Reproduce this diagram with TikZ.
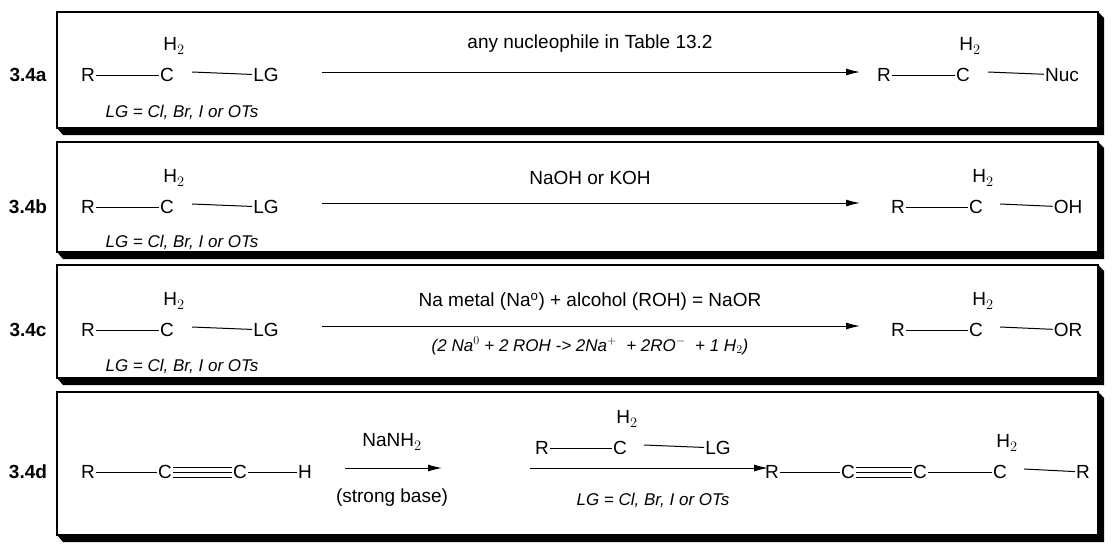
\documentclass[tikz,border=0pt]{standalone}
\usepackage{fontspec}
\setmainfont{Liberation Sans}
\usetikzlibrary{arrows.meta}
\tikzset{
  atm/.style={inner sep=1pt,font=\fontsize{19}{22}\selectfont},
  hh/.style={inner sep=0pt,font=\fontsize{19}{22}\selectfont},
  lgnote/.style={inner sep=0pt,font=\fontsize{17}{20}\selectfont\itshape},
  reag/.style={inner sep=0pt,font=\fontsize{19}{22}\selectfont},
  tag/.style={inner sep=0pt,font=\fontsize{19}{22}\selectfont\bfseries},
  bond/.style={line width=1pt},
  rxn/.style={line width=1pt,-{Latex[length=14pt,width=7pt]}},
  panel/.style={draw,line width=1.6pt,fill=white}
}
% panel with bevelled shadow: #1 top, #2 bottom
\newcommand{\rxnpanel}[2]{%
  \fill (57,#2) -- (63,#2+7) -- (1104,#2+7) -- (1104,#1+6) -- (1098,#1) -- cycle;
  \draw[panel] (57,#1) rectangle (1098,#2);}
\begin{document}
\begin{tikzpicture}[x=1pt,y=-1pt]
  \useasboundingbox (0,0) rectangle (1114,550);
  \rxnpanel{12}{128}
  \rxnpanel{142}{252}
  \rxnpanel{265}{378}
  \rxnpanel{392}{535}

  % 3.4a
  \node[tag] (ta) at (28,75) {3.4a};
  \node[atm] (ra) at (88,75) {R};
  \node[atm] (ca) at (167,75) {C};
  \node[hh] (ha) at (174,46) {H$_2$};
  \node[atm] (lga) at (266,75) {LG};
  \draw[bond] (ra) -- (ca); \draw[bond] (192,72) -- (lga);
  \node[lgnote] (na) at (182,112) {LG = Cl, Br, I or OTs};
  \coordinate (a0) at (322,72); \coordinate (a1) at (860,72);
  \draw[rxn] (a0) -- (a1);
  \node[reag] (qa) at (590,44) {any nucleophile in Table 13.2};
  \node[atm] (rpa) at (884,75) {R};
  \node[atm] (cpa) at (963,75) {C};
  \node[hh] (hpa) at (970,46) {H$_2$};
  \node[atm] (nuc) at (1062,75) {Nuc};
  \draw[bond] (rpa) -- (cpa); \draw[bond] (988,72) -- (nuc);

  % 3.4b
  \node[tag] (tb) at (28,207) {3.4b};
  \node[atm] (rb) at (88,207) {R};
  \node[atm] (cb) at (167,207) {C};
  \node[hh] (hb) at (174,178) {H$_2$};
  \node[atm] (lgb) at (266,207) {LG};
  \draw[bond] (rb) -- (cb); \draw[bond] (192,204) -- (lgb);
  \node[lgnote] (nb) at (182,242) {LG = Cl, Br, I or OTs};
  \coordinate (b0) at (322,203); \coordinate (b1) at (860,203);
  \draw[rxn] (b0) -- (b1);
  \node[reag] (qb) at (590,178) {NaOH or KOH};
  \node[atm] (rpb) at (898,207) {R};
  \node[atm] (cpb) at (976,207) {C};
  \node[hh] (hpb) at (983,178) {H$_2$};
  \node[atm] (oh) at (1068,207) {OH};
  \draw[bond] (rpb) -- (cpb); \draw[bond] (1000,204) -- (oh);

  % 3.4c
  \node[tag] (tc) at (28,330) {3.4c};
  \node[atm] (rc) at (88,330) {R};
  \node[atm] (cc) at (167,330) {C};
  \node[hh] (hc) at (174,301) {H$_2$};
  \node[atm] (lgc) at (266,330) {LG};
  \draw[bond] (rc) -- (cc); \draw[bond] (192,327) -- (lgc);
  \node[lgnote] (nc) at (182,366) {LG = Cl, Br, I or OTs};
  \coordinate (c0) at (322,326); \coordinate (c1) at (860,326);
  \draw[rxn] (c0) -- (c1);
  \node[reag] (qc) at (590,302) {Na metal (Na$^{\mathrm{o}}$) + alcohol (ROH) = NaOR};
  \node[lgnote] (sc) at (590,346) {(2 Na$^0$ + 2 ROH -> 2Na$^+$\ \ + 2RO$^-$\ \ + 1 H$_2$)};
  \node[atm] (rpc) at (898,330) {R};
  \node[atm] (cpc) at (976,330) {C};
  \node[hh] (hpc) at (983,301) {H$_2$};
  \node[atm] (or) at (1068,330) {OR};
  \draw[bond] (rpc) -- (cpc); \draw[bond] (1000,327) -- (or);

  % 3.4d
  \node[tag] (td) at (28,472) {3.4d};
  \node[atm] (rd) at (88,472) {R};
  \node[atm] (c1d) at (165,472) {C};
  \node[atm] (c2d) at (240,472) {C};
  \node[atm] (hd) at (305,472) {H};
  \draw[bond] (rd) -- (c1d); \draw[bond] (c2d) -- (hd);
  \foreach \dy in {-5,0,5}
    \draw[bond] ([yshift=\dy]c1d.east) -- ([yshift=\dy]c2d.west);
  \coordinate (d0) at (345,468); \coordinate (d1) at (442,468);
  \draw[rxn] (d0) -- (d1);
  \node[reag] (qd) at (392,442) {NaNH$_2$};
  \node[reag] (sd) at (392,498) {(strong base)};
  \node[atm] (rm) at (542,448) {R};
  \node[atm] (cm) at (620,448) {C};
  \node[hh] (hm) at (627,419) {H$_2$};
  \node[atm] (lgm) at (718,448) {LG};
  \draw[bond] (rm) -- (cm); \draw[bond] (644,445) -- (lgm);
  \coordinate (e0) at (530,468); \coordinate (e1) at (768,468);
  \draw[rxn] (e0) -- (e1);
  \node[lgnote] (nd) at (653,500) {LG = Cl, Br, I or OTs};
  \node[atm] (rpd) at (772,472) {R};
  \node[atm] (c3d) at (848,472) {C};
  \node[atm] (c4d) at (920,472) {C};
  \node[atm] (c5d) at (1000,472) {C};
  \node[hh] (hpd) at (1007,443) {H$_2$};
  \node[atm] (r2d) at (1083,472) {R};
  \draw[bond] (rpd) -- (c3d); \draw[bond] (c4d) -- (c5d); \draw[bond] (1024,469) -- (r2d);
  \foreach \dy in {-5,0,5}
    \draw[bond] ([yshift=\dy]c3d.east) -- ([yshift=\dy]c4d.west);
\end{tikzpicture}
\end{document}
